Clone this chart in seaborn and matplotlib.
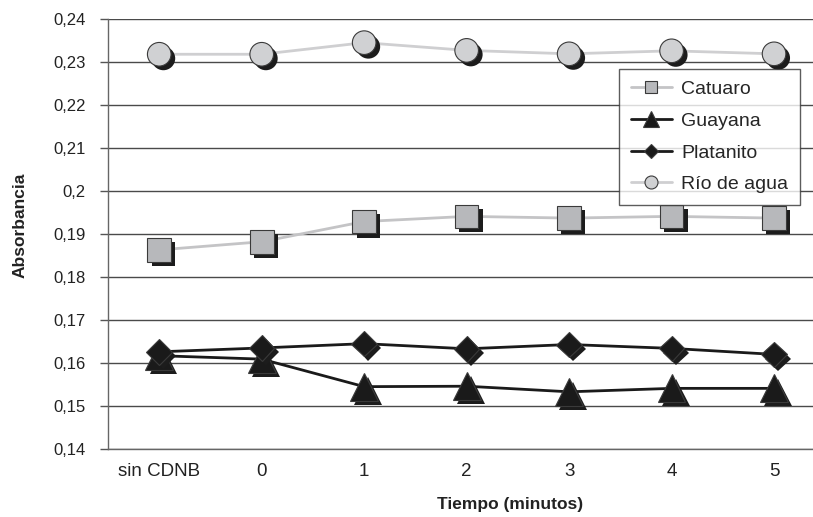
import pandas as pd
import matplotlib.pyplot as plt
import matplotlib.patheffects as pe
from matplotlib.lines import Line2D
import seaborn as sns

tiempos = ["sin CDNB", "0", "1", "2", "3", "4", "5"]
catuaro = [0.1863, 0.1882, 0.1929, 0.1941, 0.1937, 0.1941, 0.1937]
guayana = [0.1617, 0.1609, 0.1545, 0.1546, 0.1533, 0.1541, 0.1541]
platanito = [0.1626, 0.1635, 0.1645, 0.1633, 0.1643, 0.1634, 0.1620]
rio_agua = [0.2318, 0.2318, 0.2345, 0.2327, 0.2319, 0.2326, 0.2319]
y_ticks = [0.14, 0.15, 0.16, 0.17, 0.18, 0.19, 0.2, 0.21, 0.22, 0.23, 0.24]


def main():
    sns.set_style("white")
    plt.rcParams['font.family'] = ['Liberation Sans', 'DejaVu Sans']

    series = {
        'Catuaro': catuaro,
        'Guayana': guayana,
        'Platanito': platanito,
        'Río de agua': rio_agua,
    }
    df = pd.DataFrame([
        {'Tiempo': t, 'Absorbancia': v, 'Muestra': name}
        for name, vals in series.items() for t, v in zip(tiempos, vals)
    ])

    # estilo por serie: color de linea, marcador, relleno, tamaño
    styles = {
        'Catuaro': ('#c4c4c6', 's', '#b7b8bb', 17),
        'Guayana': ('#1a1a1a', '^', '#1a1a1a', 20),
        'Platanito': ('#1a1a1a', 'D', '#1a1a1a', 13),
        'Río de agua': ('#cfcfd1', 'o', '#d0d1d3', 17),
    }

    fig = plt.figure(figsize=(8.13, 5.17), dpi=100)
    ax = fig.add_axes([108 / 813, 1 - 449 / 517, 1 - 108 / 813, 430 / 517])

    for y in y_ticks:
        ax.axhline(y, color='#4a4a4a', lw=1, zorder=0)

    shadow = [pe.withSimplePatchShadow(offset=(3, -3), shadow_rgbFace='#1c1c1c', alpha=1)]
    handles = []
    for name in series:
        lc, mk, fc, ms = styles[name]
        sub = df[df['Muestra'] == name]
        sns.lineplot(ax=ax, data=sub, x='Tiempo', y='Absorbancia', sort=False,
                     color=lc, lw=2, zorder=2)
        sns.lineplot(ax=ax, data=sub, x='Tiempo', y='Absorbancia', sort=False,
                     linestyle='none', marker=mk, markersize=ms, markerfacecolor=fc,
                     markeredgecolor='#3a3a3a', markeredgewidth=0.8, zorder=3,
                     path_effects=shadow)
        handles.append(Line2D([], [], color=lc, lw=2, marker=mk, markersize=ms * 0.55,
                              markerfacecolor=fc, markeredgecolor='#3a3a3a',
                              markeredgewidth=0.8, label=name))

    ax.set_xlim(-0.5, 6.38)
    ax.set_ylim(0.14, 0.24)
    ax.set_yticks(y_ticks)
    ax.set_yticklabels([f"{v:g}".replace('.', ',') for v in y_ticks], fontsize=12, color='#222')
    ax.set_xticks(range(len(tiempos)))
    ax.set_xticklabels(tiempos, fontsize=13.5, color='#222')
    ax.set_xticks([i + 0.5 for i in range(-1, len(tiempos) - 1)], minor=True)
    ax.tick_params(axis='x', which='major', length=0, pad=10)
    ax.tick_params(axis='x', which='minor', length=5, width=1, color='#555', direction='out')
    ax.tick_params(axis='y', length=6, width=1, color='#555', direction='out', left=True, pad=10)

    for side in ['top', 'right']:
        ax.spines[side].set_visible(False)
    for side in ['left', 'bottom']:
        ax.spines[side].set_color('#666')
        ax.spines[side].set_linewidth(1)

    ax.set_xlabel('Tiempo (minutos)', fontsize=12.5, fontweight='bold', color='#222')
    ax.xaxis.set_label_coords(0.57, -0.13)
    ax.xaxis.label.set_va('center')
    ax.set_ylabel('Absorbancia', fontsize=12.5, fontweight='bold', color='#222')
    ax.yaxis.set_label_coords(-0.125, 0.52)
    ax.yaxis.label.set_va('center')

    leg = ax.legend(handles=handles, loc='upper left', bbox_to_anchor=((619 - 108) / 705, (449 - 69) / 430),
                    borderaxespad=0, frameon=True, fancybox=False, fontsize=14, handlelength=2.1,
                    borderpad=0.6, labelspacing=0.72, handletextpad=0.5)
    leg.get_frame().set_edgecolor('#333')
    leg.get_frame().set_linewidth(1)
    leg.set_zorder(5)

    plt.savefig('out.png', dpi=100)


if __name__ == '__main__':
    main()
